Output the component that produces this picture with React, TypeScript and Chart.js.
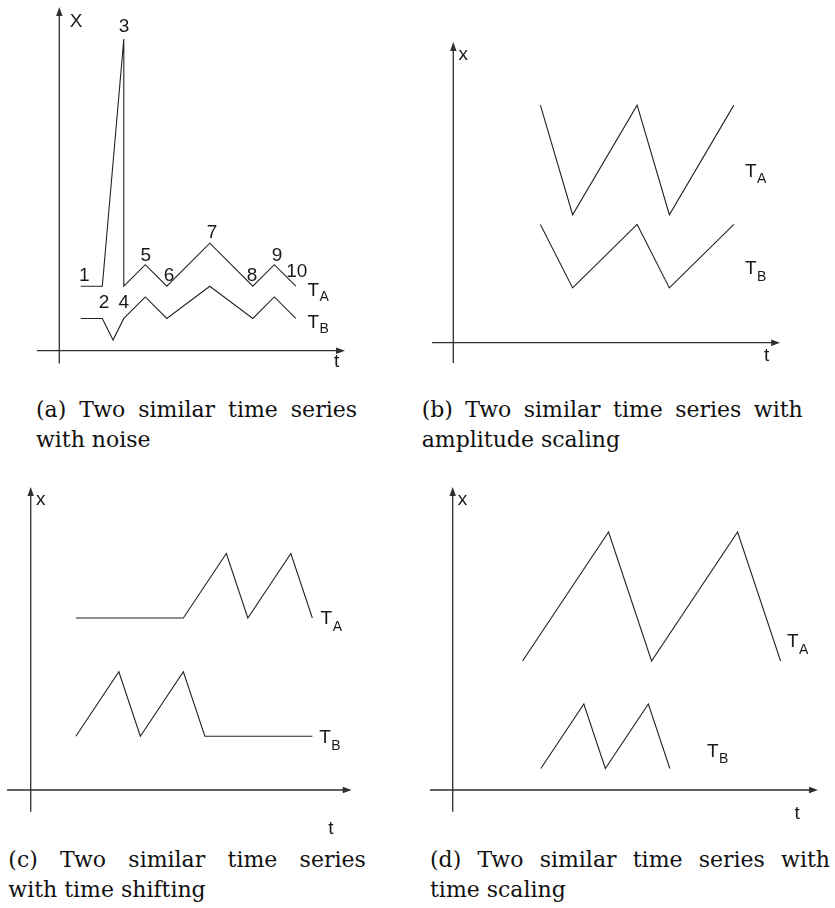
import React, { useEffect, useRef } from "react";
import { Chart, registerables } from "chart.js";

Chart.register(...registerables);

// ---------------- data ----------------
// (a) noise
const aTimesA = [1, 2, 3, 3, 4, 5, 7, 9, 10, 11];
const aValuesA = [3, 3, 14.5, 3, 4, 3, 5, 3, 4, 3];
const aTimesB = [1, 2, 2.5, 3, 4, 5, 7, 9, 10, 11];
const aValuesB = [1.5, 1.5, 0.5, 1.5, 2.5, 1.5, 3, 1.5, 2.5, 1.5];
const aPointLabels = ["1", "2", "3", "4", "5", "6", "7", "8", "9", "10"];

// (b) amplitude scaling
const bTimes = [4.05, 5.55, 8.55, 10.05, 13.05];
const bValuesA = [11.05, 5.95, 11.05, 5.95, 11.05];
const bValuesB = [5.5, 2.55, 5.5, 2.55, 5.5];

// (c) time shifting
const cTimesA = [2.1, 7.1, 9.1, 10.1, 12.1, 13.1];
const cValuesA = [8, 8, 11, 8, 11, 8];
const cTimesB = [2.1, 4.1, 5.1, 7.1, 8.1, 13.1];
const cValuesB = [2.5, 5.5, 2.5, 5.5, 2.5, 2.5];

// (d) time scaling
const dTimesA = [3.25, 7.25, 9.25, 13.25, 15.25];
const dValuesA = [6, 12, 6, 12, 6];
const dTimesB = [4.1, 6.1, 7.1, 9.1, 10.1];
const dValuesB = [1, 4, 1, 4, 1];

const seriesMain = ["T", "T"];
const seriesSub = ["A", "B"];
const axisNameA = "X";
const axisNameOther = "x";
const timeName = "t";

const captionsLine1 = [
  "(a) Two similar time series",
  "(b) Two similar time series with",
  "(c) Two similar time series",
  "(d) Two similar time series with",
];
const captionsLine2 = ["with noise", "amplitude scaling", "with time shifting", "time scaling"];

// ---------------- layout / style ----------------
const U = 21.5; // pixels per data unit
const LINE = "#232323";
const AXIS = "#2e2e2e";
const LABEL_FONT = '19px "Liberation Sans", Arial, sans-serif';
const SUB_FONT = '14px "Liberation Sans", Arial, sans-serif';

type Pos = { t: number; x: number };
type Spec = {
  left: number;
  top: number;
  width: number;
  height: number;
  ox: number;
  oy: number;
  tMin: number;
  tMax: number;
  xMin: number;
  xMax: number;
  series: { t: number[]; v: number[] }[];
  axisLabel: string;
  axisPos: Pos;
  timePos: Pos;
  namePos: Pos[];
  subDy: number;
  pointLabels?: string[];
  pointOffsets?: [number, number][];
};

const specs: Spec[] = [
  {
    left: 0, top: 0, width: 417, height: 385, ox: 59.3, oy: 350.7,
    tMin: -1.04, tMax: 13.29, xMin: -0.6, xMax: 15.99,
    series: [{ t: aTimesA, v: aValuesA }, { t: aTimesB, v: aValuesB }],
    axisLabel: axisNameA,
    axisPos: { t: 0.777, x: 15.065 },
    timePos: { t: 12.9, x: -0.758 },
    namePos: [{ t: 11.544, x: 2.553 }, { t: 11.544, x: 1.033 }],
    subDy: 5,
    pointLabels: aPointLabels,
    pointOffsets: [
      [3.4, -12], [1.7, 14.5], [0.2, -13.3], [0, 14.5], [0.4, -10.7],
      [2.2, -12.2], [2.2, -12.5], [-0.8, -12.2], [2.7, -10.7], [0.9, -16.2],
    ],
  },
  {
    left: 417, top: 0, width: 418, height: 385, ox: 36.3, oy: 342.7,
    tMin: -0.99, tMax: 15.2, xMin: -0.94, xMax: 13.99,
    series: [{ t: bTimes, v: bValuesA }, { t: bTimes, v: bValuesB }],
    axisLabel: axisNameOther,
    axisPos: { t: 0.465, x: 13.153 },
    timePos: { t: 14.577, x: -0.865 },
    namePos: [{ t: 13.567, x: 7.716 }, { t: 13.567, x: 3.19 }],
    subDy: 6.5,
  },
  {
    left: 0, top: 470, width: 417, height: 370, ox: 30.7, oy: 320,
    tMin: -1.1, tMax: 14.93, xMin: -1.01, xMax: 14.09,
    series: [{ t: cTimesA, v: cValuesA }, { t: cTimesB, v: cValuesB }],
    axisLabel: axisNameOther,
    axisPos: { t: 0.47, x: 13.26 },
    timePos: { t: 13.967, x: -2.06 },
    namePos: [{ t: 13.48, x: 7.707 }, { t: 13.42, x: 2.163 }],
    subDy: 6.5,
  },
  {
    left: 417, top: 470, width: 418, height: 370, ox: 35.7, oy: 320,
    tMin: -1.06, tMax: 16.99, xMin: -1.01, xMax: 14.09,
    series: [{ t: dTimesA, v: dValuesA }, { t: dTimesB, v: dValuesB }],
    axisLabel: axisNameOther,
    axisPos: { t: 0.456, x: 13.26 },
    timePos: { t: 16.02, x: -1.34 },
    namePos: [{ t: 15.544, x: 6.628 }, { t: 11.823, x: 1.544 }],
    subDy: 6.5,
  },
];

const captionBoxes = [
  { left: 36, top: 395, width: 321 },
  { left: 421.7, top: 395, width: 381 },
  { left: 8.3, top: 845, width: 357.5 },
  { left: 430, top: 845, width: 400 },
];

function Panel({ spec }: { spec: Spec }) {
  const ref = useRef<HTMLCanvasElement | null>(null);
  useEffect(() => {
    const canvas = ref.current;
    if (!canvas) return;
    const s = spec;
    const padLeft = s.ox + s.tMin * U;
    const padRight = s.width - (s.ox + s.tMax * U);
    const padTop = s.oy - s.xMax * U;
    const padBottom = s.height - (s.oy - s.xMin * U);

    const overlay = {
      id: "overlay",
      afterDatasetsDraw(chart: any) {
        const ctx: CanvasRenderingContext2D = chart.ctx;
        const xs = chart.scales.x;
        const ys = chart.scales.y;
        const px = (t: number) => xs.getPixelForValue(t);
        const py = (v: number) => ys.getPixelForValue(v);
        ctx.save();
        ctx.strokeStyle = AXIS;
        ctx.fillStyle = AXIS;
        ctx.lineWidth = 1.3;
        const x0 = px(0);
        const y0 = py(0);
        const xL = px(s.tMin);
        const xR = px(s.tMax);
        const yB = py(s.xMin);
        const yT = py(s.xMax);
        const head = 9;
        const half = 3.2;
        // time axis
        ctx.beginPath();
        ctx.moveTo(xL, y0);
        ctx.lineTo(xR - head + 1, y0);
        ctx.stroke();
        ctx.beginPath();
        ctx.moveTo(xR, y0);
        ctx.lineTo(xR - head, y0 - half);
        ctx.lineTo(xR - head, y0 + half);
        ctx.closePath();
        ctx.fill();
        // value axis
        ctx.beginPath();
        ctx.moveTo(x0, yB);
        ctx.lineTo(x0, yT + head - 1);
        ctx.stroke();
        ctx.beginPath();
        ctx.moveTo(x0, yT);
        ctx.lineTo(x0 - half, yT + head);
        ctx.lineTo(x0 + half, yT + head);
        ctx.closePath();
        ctx.fill();

        // texts
        ctx.fillStyle = "#1a1a1a";
        ctx.textBaseline = "alphabetic";
        ctx.font = LABEL_FONT;
        ctx.textAlign = "center";
        ctx.fillText(s.axisLabel, px(s.axisPos.t), py(s.axisPos.x));
        ctx.fillText(timeName, px(s.timePos.t), py(s.timePos.x));

        if (s.pointLabels && s.pointOffsets) {
          const first = s.series[0];
          s.pointLabels.forEach((lab, i) => {
            const [dx, dy] = s.pointOffsets![i];
            ctx.fillText(lab, px(first.t[i]) + dx, py(first.v[i]) + dy + 6.8);
          });
        }

        ctx.textAlign = "left";
        s.namePos.forEach((p, i) => {
          const x = px(p.t);
          const y = py(p.x);
          ctx.font = LABEL_FONT;
          ctx.fillText(seriesMain[i], x, y);
          const w = ctx.measureText(seriesMain[i]).width;
          ctx.font = SUB_FONT;
          ctx.fillText(seriesSub[i], x + w + 0.5, y + s.subDy);
        });
        ctx.restore();
      },
    };

    const chart = new Chart(canvas, {
      type: "scatter",
      data: {
        datasets: s.series.map((ser, i) => ({
          label: seriesMain[i] + seriesSub[i],
          data: ser.t.map((t, k) => ({ x: t, y: ser.v[k] })),
          showLine: true,
          borderColor: LINE,
          backgroundColor: LINE,
          borderWidth: 1.1,
          pointRadius: 0,
          tension: 0,
          clip: false as any,
        })),
      },
      options: {
        responsive: false,
        animation: false,
        devicePixelRatio: 1,
        events: [],
        layout: { padding: { left: padLeft, right: padRight, top: padTop, bottom: padBottom } },
        scales: {
          x: { type: "linear", min: s.tMin, max: s.tMax, display: false },
          y: { type: "linear", min: s.xMin, max: s.xMax, display: false },
        },
        plugins: { legend: { display: false }, tooltip: { enabled: false }, title: { display: false } },
      },
      plugins: [overlay as any],
    });
    return () => chart.destroy();
  }, [spec]);
  return (
    <canvas
      ref={ref}
      width={spec.width}
      height={spec.height}
      style={{ position: "absolute", left: spec.left, top: spec.top, width: spec.width, height: spec.height }}
    />
  );
}

export default function App() {
  return (
    <div style={{ position: "absolute", left: 0, top: 0, width: 835, height: 908, background: "#fff", overflow: "hidden" }}>
      {specs.map((s, i) => (
        <Panel key={i} spec={s} />
      ))}
      {captionBoxes.map((b, i) => (
        <div
          key={"c" + i}
          style={{
            position: "absolute",
            left: b.left,
            top: b.top,
            width: b.width,
            fontFamily: '"DejaVu Serif", serif',
            fontSize: 22,
            lineHeight: "30px",
            color: "#111",
          }}
        >
          <div style={{ textAlign: "justify", textAlignLast: "justify", whiteSpace: "nowrap" } as any}>{captionsLine1[i]}</div>
          <div style={{ textAlign: "left", whiteSpace: "nowrap" }}>{captionsLine2[i]}</div>
        </div>
      ))}
    </div>
  );
}
